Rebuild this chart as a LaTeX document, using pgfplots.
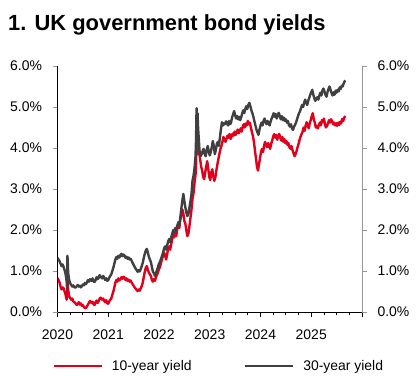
\documentclass[border=0pt]{standalone}
\usepackage{pgfplots}
\pgfplotsset{compat=1.18}
\usepackage{pgfplotstable}
\usepackage{fontspec}
\setmainfont{Liberation Sans}
\definecolor{ukred}{RGB}{225,0,28}
\definecolor{ukgray}{RGB}{64,64,64}
\definecolor{axgray}{RGB}{150,150,150}

\pgfplotstableread{
x y
2020.00 0.83
2020.02 0.78
2020.04 0.72
2020.06 0.62
2020.08 0.55
2020.10 0.60
2020.12 0.58
2020.14 0.50
2020.16 0.42
2020.18 0.30
2020.19 0.45
2020.20 0.72
2020.21 0.55
2020.23 0.38
2020.25 0.34
2020.27 0.30
2020.29 0.33
2020.31 0.26
2020.33 0.24
2020.35 0.22
2020.38 0.17
2020.40 0.20
2020.42 0.24
2020.44 0.18
2020.46 0.21
2020.48 0.15
2020.50 0.17
2020.52 0.12
2020.54 0.10
2020.56 0.09
2020.58 0.14
2020.60 0.18
2020.62 0.23
2020.64 0.27
2020.67 0.22
2020.69 0.25
2020.71 0.19
2020.73 0.17
2020.75 0.24
2020.77 0.28
2020.79 0.22
2020.81 0.26
2020.83 0.33
2020.85 0.35
2020.88 0.30
2020.90 0.33
2020.92 0.27
2020.94 0.24
2020.96 0.29
2020.98 0.21
2021.00 0.20
2021.02 0.26
2021.04 0.30
2021.06 0.33
2021.08 0.42
2021.10 0.50
2021.12 0.60
2021.14 0.72
2021.16 0.78
2021.18 0.74
2021.20 0.82
2021.22 0.77
2021.24 0.80
2021.26 0.85
2021.28 0.81
2021.30 0.86
2021.32 0.84
2021.34 0.78
2021.36 0.82
2021.38 0.76
2021.40 0.79
2021.42 0.74
2021.44 0.77
2021.46 0.72
2021.48 0.68
2021.50 0.64
2021.52 0.60
2021.54 0.57
2021.56 0.54
2021.58 0.51
2021.60 0.55
2021.62 0.52
2021.64 0.58
2021.66 0.63
2021.68 0.72
2021.70 0.85
2021.72 0.98
2021.74 1.08
2021.76 1.12
2021.78 1.03
2021.80 0.96
2021.82 0.92
2021.84 0.88
2021.86 0.78
2021.88 0.74
2021.90 0.80
2021.92 0.76
2021.94 0.85
2021.96 0.90
2021.98 0.97
2022.00 1.05
2022.02 1.10
2022.04 1.20
2022.06 1.30
2022.08 1.37
2022.10 1.45
2022.12 1.38
2022.14 1.28
2022.16 1.40
2022.18 1.55
2022.20 1.60
2022.22 1.52
2022.24 1.65
2022.26 1.78
2022.28 1.90
2022.30 1.82
2022.32 1.95
2022.34 1.85
2022.36 2.02
2022.38 2.15
2022.40 2.05
2022.42 2.25
2022.44 2.38
2022.46 2.50
2022.48 2.40
2022.50 2.22
2022.52 2.15
2022.54 1.98
2022.56 1.85
2022.58 1.92
2022.60 2.10
2022.62 2.30
2022.64 2.50
2022.66 2.76
2022.68 2.90
2022.70 3.15
2022.72 3.35
2022.73 3.60
2022.74 4.10
2022.75 4.30
2022.76 4.05
2022.77 3.85
2022.79 3.95
2022.81 3.73
2022.83 3.55
2022.85 3.45
2022.87 3.30
2022.89 3.24
2022.91 3.40
2022.93 3.55
2022.95 3.68
2022.97 3.50
2022.99 3.30
2023.01 3.22
2023.03 3.40
2023.05 3.48
2023.07 3.30
2023.09 3.20
2023.11 3.28
2023.13 3.45
2023.15 3.60
2023.17 3.73
2023.19 3.85
2023.21 3.98
2023.23 4.05
2023.25 4.15
2023.27 4.27
2023.29 4.20
2023.31 4.15
2023.33 4.22
2023.35 4.30
2023.37 4.25
2023.39 4.34
2023.41 4.22
2023.43 4.28
2023.45 4.35
2023.47 4.30
2023.49 4.40
2023.51 4.32
2023.53 4.38
2023.55 4.45
2023.57 4.36
2023.59 4.41
2023.61 4.48
2023.63 4.40
2023.65 4.52
2023.67 4.58
2023.69 4.50
2023.71 4.60
2023.73 4.55
2023.75 4.66
2023.77 4.58
2023.79 4.62
2023.81 4.50
2023.83 4.39
2023.85 4.30
2023.87 4.15
2023.89 3.95
2023.91 3.75
2023.93 3.55
2023.95 3.45
2023.97 3.60
2023.99 3.75
2024.01 3.90
2024.03 3.98
2024.05 3.90
2024.07 4.05
2024.09 4.15
2024.11 4.08
2024.13 4.02
2024.15 4.12
2024.17 4.05
2024.19 3.98
2024.21 4.10
2024.23 4.18
2024.25 4.28
2024.27 4.34
2024.29 4.25
2024.31 4.32
2024.33 4.20
2024.35 4.30
2024.37 4.34
2024.39 4.25
2024.41 4.18
2024.43 4.27
2024.45 4.15
2024.47 4.22
2024.49 4.12
2024.51 4.17
2024.53 4.08
2024.55 4.12
2024.57 4.02
2024.59 3.98
2024.61 4.05
2024.63 3.95
2024.65 3.88
2024.67 3.80
2024.69 3.85
2024.71 3.92
2024.73 4.02
2024.75 4.10
2024.77 4.20
2024.79 4.28
2024.81 4.34
2024.83 4.40
2024.85 4.50
2024.87 4.42
2024.89 4.55
2024.91 4.63
2024.93 4.55
2024.95 4.48
2024.97 4.60
2024.99 4.68
2025.01 4.78
2025.03 4.85
2025.05 4.70
2025.07 4.62
2025.09 4.50
2025.11 4.54
2025.13 4.48
2025.15 4.56
2025.17 4.62
2025.19 4.55
2025.21 4.68
2025.23 4.63
2025.25 4.72
2025.27 4.58
2025.29 4.50
2025.31 4.54
2025.33 4.60
2025.35 4.68
2025.37 4.62
2025.39 4.70
2025.41 4.66
2025.43 4.58
2025.45 4.62
2025.47 4.55
2025.49 4.60
2025.51 4.54
2025.53 4.62
2025.55 4.56
2025.57 4.64
2025.59 4.60
2025.61 4.71
2025.63 4.66
2025.65 4.74
2025.67 4.78
}\tenyr

\pgfplotstableread{
x y
2020.00 1.32
2020.02 1.28
2020.04 1.24
2020.06 1.18
2020.08 1.12
2020.10 1.16
2020.12 1.10
2020.14 1.02
2020.16 0.92
2020.18 0.75
2020.19 0.55
2020.195 1.37
2020.20 1.30
2020.21 0.95
2020.23 0.78
2020.25 0.70
2020.27 0.66
2020.29 0.62
2020.31 0.65
2020.33 0.61
2020.35 0.59
2020.38 0.63
2020.40 0.66
2020.42 0.62
2020.44 0.64
2020.46 0.60
2020.48 0.63
2020.50 0.67
2020.52 0.65
2020.54 0.71
2020.56 0.68
2020.58 0.72
2020.60 0.78
2020.62 0.74
2020.64 0.80
2020.67 0.76
2020.69 0.82
2020.71 0.75
2020.73 0.73
2020.75 0.78
2020.77 0.85
2020.79 0.80
2020.81 0.83
2020.83 0.90
2020.85 0.86
2020.88 0.82
2020.90 0.88
2020.92 0.84
2020.94 0.78
2020.96 0.82
2020.98 0.76
2021.00 0.78
2021.02 0.84
2021.04 0.88
2021.06 0.92
2021.08 1.00
2021.10 1.08
2021.12 1.18
2021.14 1.28
2021.16 1.34
2021.18 1.30
2021.20 1.37
2021.22 1.33
2021.24 1.39
2021.26 1.42
2021.28 1.36
2021.30 1.40
2021.32 1.38
2021.34 1.32
2021.36 1.35
2021.38 1.30
2021.40 1.33
2021.42 1.28
2021.44 1.30
2021.46 1.25
2021.48 1.20
2021.50 1.15
2021.52 1.10
2021.54 1.06
2021.56 1.02
2021.58 0.98
2021.60 1.02
2021.62 0.99
2021.64 1.05
2021.66 1.12
2021.68 1.20
2021.70 1.32
2021.72 1.42
2021.74 1.50
2021.76 1.54
2021.78 1.45
2021.80 1.35
2021.82 1.28
2021.84 1.22
2021.86 1.10
2021.88 0.98
2021.90 0.95
2021.92 0.88
2021.94 0.95
2021.96 1.02
2021.98 1.10
2022.00 1.18
2022.02 1.22
2022.04 1.30
2022.06 1.37
2022.08 1.45
2022.10 1.55
2022.12 1.60
2022.14 1.52
2022.16 1.62
2022.18 1.72
2022.20 1.78
2022.22 1.70
2022.24 1.82
2022.26 1.90
2022.28 2.00
2022.30 1.94
2022.32 2.05
2022.34 1.98
2022.36 2.10
2022.38 2.19
2022.40 2.12
2022.42 2.30
2022.44 2.52
2022.46 2.72
2022.48 2.88
2022.50 2.70
2022.52 2.55
2022.54 2.42
2022.56 2.34
2022.58 2.40
2022.60 2.55
2022.62 2.70
2022.64 2.88
2022.66 3.20
2022.68 3.32
2022.70 3.50
2022.72 3.80
2022.73 4.20
2022.74 4.97
2022.75 4.75
2022.76 4.85
2022.77 4.50
2022.78 4.30
2022.80 3.90
2022.82 3.80
2022.84 3.85
2022.86 3.93
2022.88 3.98
2022.90 3.85
2022.92 3.80
2022.94 3.95
2022.96 4.05
2022.98 3.92
2023.00 3.82
2023.02 3.90
2023.04 4.02
2023.06 4.17
2023.08 4.05
2023.10 3.85
2023.12 3.95
2023.14 4.10
2023.16 4.15
2023.18 4.05
2023.20 4.25
2023.22 4.45
2023.24 4.63
2023.26 4.55
2023.28 4.60
2023.30 4.58
2023.32 4.65
2023.34 4.60
2023.36 4.55
2023.38 4.66
2023.40 4.58
2023.42 4.62
2023.44 4.75
2023.46 4.82
2023.48 4.90
2023.50 4.80
2023.52 4.72
2023.54 4.78
2023.56 4.70
2023.58 4.76
2023.60 4.68
2023.62 4.75
2023.64 4.85
2023.66 4.92
2023.68 4.85
2023.70 4.95
2023.72 5.02
2023.74 4.95
2023.76 5.05
2023.78 5.10
2023.80 5.02
2023.82 4.92
2023.84 4.85
2023.86 4.76
2023.88 4.65
2023.90 4.55
2023.92 4.45
2023.94 4.38
2023.96 4.32
2023.98 4.45
2024.00 4.55
2024.02 4.62
2024.04 4.55
2024.06 4.66
2024.08 4.72
2024.10 4.63
2024.12 4.58
2024.14 4.66
2024.16 4.60
2024.18 4.55
2024.20 4.65
2024.22 4.72
2024.24 4.78
2024.26 4.85
2024.28 4.76
2024.30 4.83
2024.32 4.72
2024.34 4.80
2024.36 4.86
2024.38 4.78
2024.40 4.70
2024.42 4.78
2024.44 4.68
2024.46 4.74
2024.48 4.66
2024.50 4.70
2024.52 4.62
2024.54 4.66
2024.56 4.56
2024.58 4.52
2024.60 4.58
2024.62 4.48
2024.64 4.44
2024.66 4.52
2024.68 4.56
2024.70 4.62
2024.72 4.70
2024.74 4.78
2024.76 4.85
2024.78 4.90
2024.80 4.98
2024.82 5.05
2024.84 5.00
2024.86 5.10
2024.88 5.18
2024.90 5.10
2024.92 5.05
2024.94 5.15
2024.96 5.22
2024.98 5.30
2025.00 5.36
2025.02 5.42
2025.04 5.30
2025.06 5.22
2025.08 5.15
2025.10 5.20
2025.12 5.24
2025.14 5.18
2025.16 5.28
2025.18 5.35
2025.20 5.28
2025.22 5.40
2025.24 5.45
2025.26 5.38
2025.28 5.30
2025.30 5.25
2025.32 5.36
2025.34 5.44
2025.36 5.50
2025.38 5.42
2025.40 5.34
2025.42 5.28
2025.44 5.36
2025.46 5.30
2025.48 5.40
2025.50 5.35
2025.52 5.42
2025.54 5.38
2025.56 5.48
2025.58 5.44
2025.60 5.52
2025.62 5.50
2025.64 5.58
2025.66 5.63
2025.67 5.65
}\thirtyyr

\pgfplotsset{
  ukbase/.style={
    at={(57.5bp,69bp)}, anchor=south west,
    scale only axis, width=304.5bp, height=246bp,
    xmin=2020, xmax=2026, ymin=0, ymax=6,
    ytick={0,1,2,3,4,5,6},
    yticklabel={\pgfmathprintnumber[fixed,fixed zerofill,precision=1]{\tick}\%},
    /pgf/number format/assume math mode=true,
    tick label style={font=\fontsize{14}{16}\selectfont},
    tick align=outside,
    major tick length=5bp, minor tick length=3bp,
    y tick style={axgray, line width=0.8bp},
    x tick style={black, line width=0.8bp},
  }
}

\begin{document}
\begin{tikzpicture}
\useasboundingbox (0,0) rectangle (418bp,381bp);
\node[anchor=base west, inner sep=0pt, font=\fontsize{22}{26}\selectfont\bfseries] at (8bp,350bp) {1. UK government bond yields};
\begin{axis}[ukbase,
  axis x line*=bottom, axis y line*=left,
  x axis line style={black, line width=0.8bp, -},
  y axis line style={black, line width=0.8bp, -},
  xtick={2020,2021,2022,2023,2024,2025,2026},
  xticklabels={2020,2021,2022,2023,2024,2025,},
  minor x tick num=3,
  x tick label style={/pgf/number format/1000 sep={}, yshift=-9bp},
  y tick label style={xshift=-7bp},
  legend style={at={(axis description cs:-0.018,-0.22)}, anchor=west, draw=none, fill=none,
    inner sep=0pt, legend columns=2, font=\fontsize{14}{16}\selectfont,
    nodes={inner sep=0pt},
    /tikz/every odd column/.append style={column sep=9bp},
    /tikz/every even column/.append style={column sep=52bp}},
  legend image code/.code={\draw[#1, line width=2.6bp] (0bp,0bp) -- (48bp,0bp);},
]
\addplot[ukred, line width=2.4bp, line join=round] table[x=x,y=y] {\tenyr};
\addlegendentry{10-year yield}
\addplot[ukgray, line width=2.4bp, line join=round] table[x=x,y=y] {\thirtyyr};
\addlegendentry{30-year yield}
\end{axis}
\begin{axis}[ukbase,
  axis x line=none, axis y line*=right,
  y axis line style={axgray, line width=0.8bp, -},
  y tick label style={xshift=7bp},
  xtick=\empty,
]
\end{axis}
\end{tikzpicture}
\end{document}
